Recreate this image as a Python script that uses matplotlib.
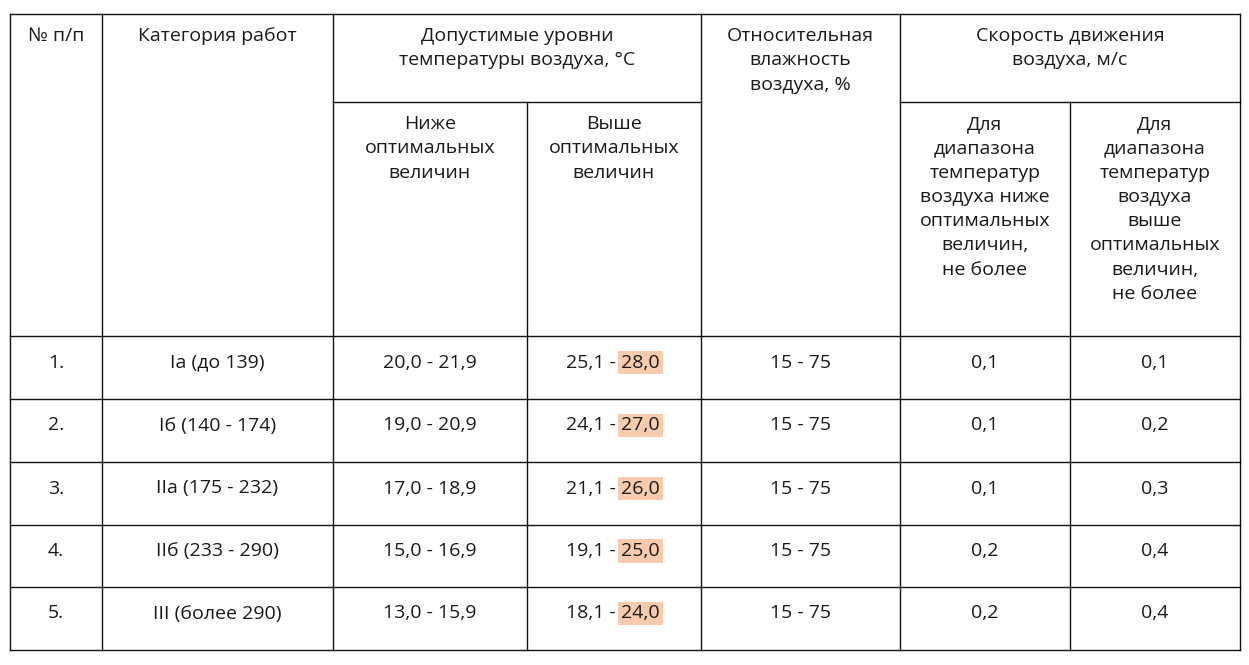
import matplotlib
matplotlib.use("Agg")
import matplotlib.pyplot as plt

nums = ["1.", "2.", "3.", "4.", "5."]
categories = ["Iа (до 139)", "Iб (140 - 174)", "IIа (175 - 232)", "IIб (233 - 290)", "III (более 290)"]
below_opt = ["20,0 - 21,9", "19,0 - 20,9", "17,0 - 18,9", "15,0 - 16,9", "13,0 - 15,9"]
above_lo = ["25,1", "24,1", "21,1", "19,1", "18,1"]
above_hi = ["28,0", "27,0", "26,0", "25,0", "24,0"]
humidity = ["15 - 75"] * 5
speed_below = ["0,1", "0,1", "0,1", "0,2", "0,2"]
speed_above = ["0,1", "0,2", "0,3", "0,4", "0,4"]

W, H = 1249, 665
fig = plt.figure(figsize=(W / 100, H / 100), dpi=100)
ax = fig.add_axes([0, 0, 1, 1])
ax.set_xlim(0, W)
ax.set_ylim(H, 0)
ax.axis("off")
plt.rcParams["font.family"] = "Open Sans"

cols = [10, 102, 333, 527, 701, 900, 1070, 1240]
top, sub = 14, 102
rows = [336, 399, 462, 525, 587, 650]
lc = "#111111"
lw = 1.0
for i, x in enumerate(cols):
    y0 = sub if i in (3, 6) else top
    ax.plot([x, x], [y0, rows[-1]], color=lc, lw=lw)
for y in [top] + rows:
    ax.plot([cols[0], cols[-1]], [y, y], color=lc, lw=lw)
ax.plot([cols[2], cols[4]], [sub, sub], color=lc, lw=lw)
ax.plot([cols[5], cols[7]], [sub, sub], color=lc, lw=lw)

fs = 14
tc = "#1a1a1a"
def t(x, y, s):
    ax.text(x, y, s, ha="center", va="top", fontsize=fs, color=tc, linespacing=1.45)

mid = lambda i: (cols[i] + cols[i + 1]) / 2
t(mid(0), 27, "№ п/п")
t(mid(1), 27, "Категория работ")
t((cols[2] + cols[4]) / 2, 27, "Допустимые уровни\nтемпературы воздуха, °С")
t(mid(4), 27, "Относительная\nвлажность\nвоздуха, %")
t((cols[5] + cols[7]) / 2, 27, "Скорость движения\nвоздуха, м/с")
t(mid(2), 115, "Ниже\nоптимальных\nвеличин")
t(mid(3), 115, "Выше\nоптимальных\nвеличин")
t(mid(5), 115, "Для\nдиапазона\nтемператур\nвоздуха ниже\nоптимальных\nвеличин,\nне более")
t(mid(6), 115, "Для\nдиапазона\nтемператур\nвоздуха\nвыше\nоптимальных\nвеличин,\nне более")

for r in range(5):
    yc = (rows[r] + rows[r + 1]) / 2 - 5
    for i, s in enumerate([nums[r], categories[r], below_opt[r]]):
        ax.text(mid(i), yc, s, ha="center", va="center", fontsize=fs, color=tc)
    ax.text(616, yc, above_lo[r] + " -", ha="right", va="center", fontsize=fs, color=tc)
    ax.text(621, yc, above_hi[r], ha="left", va="center", fontsize=fs, color=tc,
            bbox=dict(boxstyle="square,pad=0.15", fc="#f8cbad", ec="none"))
    for i, s in zip([4, 5, 6], [humidity[r], speed_below[r], speed_above[r]]):
        ax.text(mid(i), yc, s, ha="center", va="center", fontsize=fs, color=tc)

fig.savefig("out.png", dpi=100, facecolor="white")
